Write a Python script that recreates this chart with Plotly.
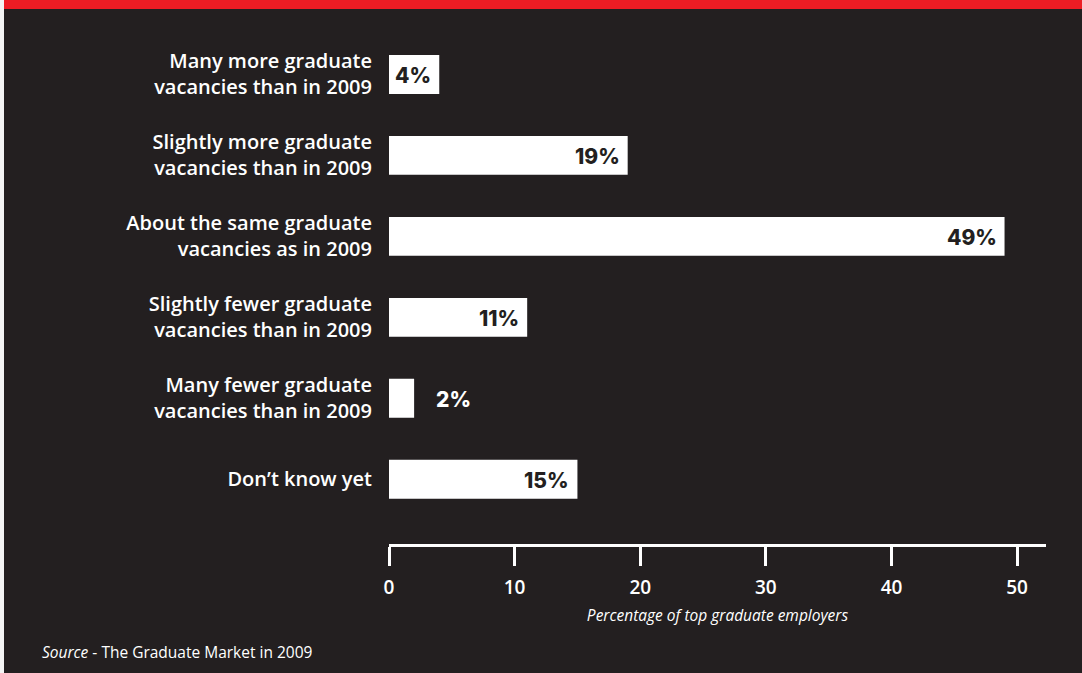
import plotly.graph_objects as go

# Survey responses: expected change in graduate vacancies
categories = [
    "Many more graduate<br>vacancies than in 2009",
    "Slightly more graduate<br>vacancies than in 2009",
    "About the same graduate<br>vacancies as in 2009",
    "Slightly fewer graduate<br>vacancies than in 2009",
    "Many fewer graduate<br>vacancies than in 2009",
    "Don\u2019t know yet",
]
percentages = [4, 19, 49, 11, 2, 15]
x_ticks = [0, 10, 20, 30, 40, 50]

BG = "#231f20"
RED = "#ed1c24"
WHITE = "#ffffff"

W, H = 1082, 673
L, R, T, B = 389, 36, 34, 129
PW, PH = W - L - R, H - T - B

LABEL_FONT = "Open Sans, Noto Sans, sans-serif"
VALUE_FONT = "Inter, Lato, sans-serif"

fig = go.Figure(
    go.Bar(
        x=percentages,
        y=categories,
        orientation="h",
        width=0.48,
        marker=dict(color=WHITE, line=dict(width=0)),
        hoverinfo="skip",
    )
)

# value labels: inside the bar end, or just outside for short bars
for cat, val in zip(categories, percentages):
    inside = val >= 4
    fig.add_annotation(
        x=val, y=cat, xref="x", yref="y",
        text=f"{val}%",
        showarrow=False,
        xanchor="right" if inside else "left",
        xshift=-6 if inside else 20,
        yshift=-1,
        font=dict(family=VALUE_FONT, size=21, color=BG if inside else WHITE,
                  weight=800),
    )

def px_x(px):
    return (px - L) / PW

def px_y(py):
    return (H - B - py) / PH

# red band across the top and thin light strip at the left edge
fig.add_shape(type="rect", xref="paper", yref="paper",
              x0=px_x(0), x1=px_x(W), y0=px_y(9), y1=px_y(0),
              fillcolor=RED, line=dict(width=0), layer="below")
fig.add_shape(type="rect", xref="paper", yref="paper",
              x0=px_x(0), x1=px_x(4), y0=px_y(H), y1=px_y(0),
              fillcolor="#f4f4f4", line=dict(width=0), layer="below")

fig.add_annotation(
    xref="paper", yref="paper", x=px_x(40), y=px_y(652),
    xanchor="left", yanchor="middle", showarrow=False,
    text="<i>Source</i> - The Graduate Market in 2009",
    font=dict(family=LABEL_FONT, size=15.5, color=WHITE),
)

fig.update_layout(
    width=W, height=H,
    margin=dict(l=L, r=R, t=T, b=B),
    paper_bgcolor=BG, plot_bgcolor=BG,
    showlegend=False,
    xaxis=dict(
        range=[0, 52.3],
        tickvals=x_ticks,
        showgrid=False, zeroline=False,
        showline=True, linecolor=WHITE, linewidth=2.5,
        ticks="outside", ticklen=19, tickwidth=2.5, tickcolor=WHITE,
        ticklabelstandoff=5,
        tickfont=dict(family=LABEL_FONT, size=19, color=WHITE, weight=600),
        title=dict(text="<i>Percentage of top graduate employers</i>",
                   font=dict(family=LABEL_FONT, size=15.5, color=WHITE),
                   standoff=12),
        fixedrange=True,
    ),
    yaxis=dict(
        type="category",
        categoryorder="array", categoryarray=categories,
        range=[5.8, -0.5],
        showgrid=False, zeroline=False, showline=False,
        ticks="", ticklabelstandoff=16,
        tickfont=dict(family=LABEL_FONT, size=20, color=WHITE, weight=600),
        fixedrange=True,
    ),
)

fig.write_html("out.html")
